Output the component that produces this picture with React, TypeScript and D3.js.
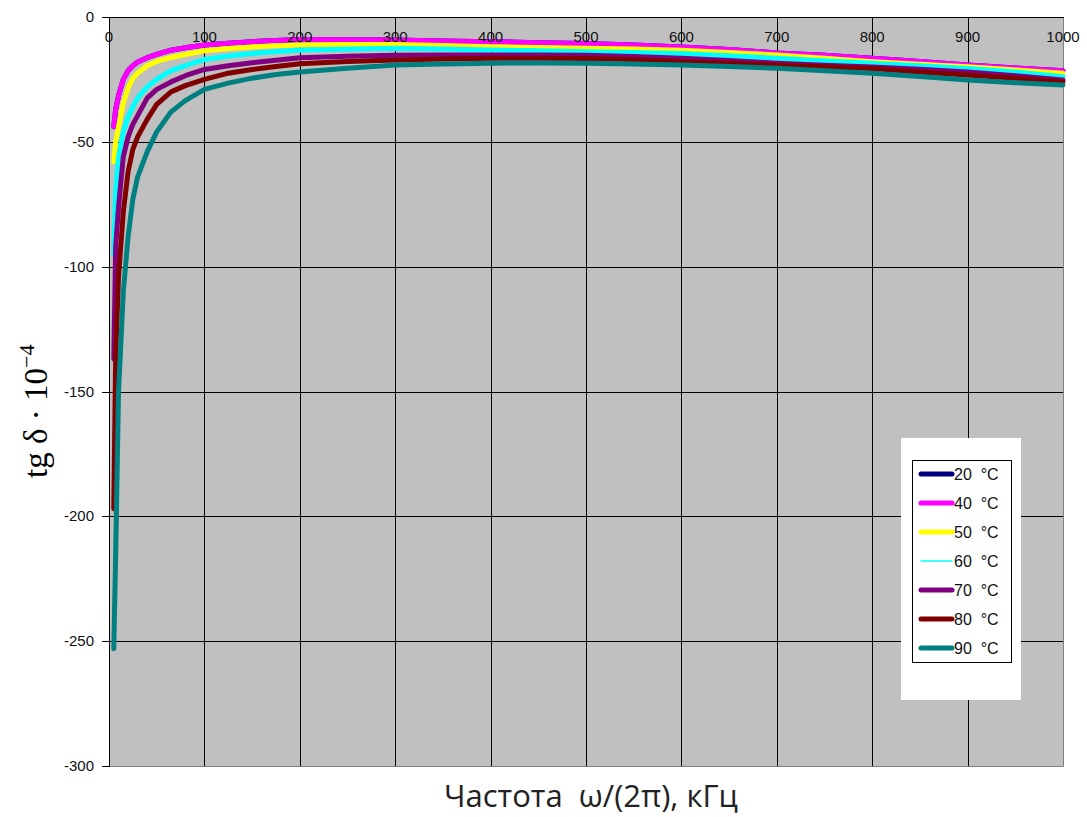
import * as d3 from 'd3'
import React, { useEffect, useRef } from 'react'

// frequency, kHz
const freqs = [5, 7, 10, 15, 20, 25, 30, 40, 50, 65, 80, 100, 125, 150, 175, 200, 250, 300, 350, 400, 450, 500, 550, 600, 650, 700, 750, 800, 850, 900, 950, 1000]

// tg delta * 10^-4
const t40 = [-44, -37, -31.5, -25, -21.5, -19.5, -18, -16.3, -15, -13.3, -12.3, -11.2, -10.5, -9.9, -9.4, -9.0, -9.1, -9.2, -9.6, -9.9, -10.3, -10.6, -11.2, -12.0, -13.0, -14.4, -15.3, -16.5, -17.8, -19.2, -20.4, -21.5]
const t20 = t40 // hidden under the 40 °C curve
const t50 = [-58, -50, -44, -34.5, -28.5, -24.5, -22.5, -19.5, -17.8, -16.2, -15, -13.5, -12.6, -12, -11.5, -11.2, -11, -11, -11.4, -11.9, -12.2, -12.5, -12.8, -13.3, -14.2, -15.2, -16.5, -17.9, -18.9, -19.9, -21.2, -22.5]
const t60 = [-95, -70, -56, -46, -40, -36, -32.5, -28, -25, -21.5, -19.5, -17, -15.6, -14.6, -13.8, -13.2, -12.8, -12.5, -12.8, -13.2, -13.5, -13.9, -14.2, -14.6, -15.5, -16.5, -17.5, -18.5, -19.5, -20.6, -22, -23.9]
const t70 = [-137, -92, -76, -56, -48, -43, -39.5, -32.5, -29, -26, -23.5, -21, -19.5, -18.3, -17.3, -16.3, -15.7, -15.3, -15.2, -15.2, -15.2, -15.3, -15.8, -16.5, -17.4, -18.5, -19.3, -20, -20.9, -22, -23.5, -25.2]
const t80 = [-197, -135, -104, -78, -62, -53, -48, -41, -35, -30, -27.5, -25, -22.5, -21, -19.8, -18.7, -17.8, -17.2, -16.8, -16.5, -16.5, -16.6, -17, -17.8, -18.5, -19.2, -19.9, -20.6, -22, -23.2, -24.5, -25.9]
const t90 = [-253, -215, -150, -110, -88, -73, -64, -54, -46, -38, -33.5, -29, -26.5, -24.5, -23, -22, -20.5, -19.2, -18.8, -18.5, -18.4, -18.5, -18.8, -19.2, -19.8, -20.5, -21.5, -22.5, -23.8, -25.2, -26.3, -27.2]

const seriesValues = [t20, t40, t50, t60, t70, t80, t90]
const seriesLabels = ['20  °C', '40  °C', '50  °C', '60  °C', '70  °C', '80  °C', '90  °C']
const seriesColors = ['#000080', '#ff00ff', '#ffff00', '#00ffff', '#800080', '#800000', '#008080']

const xTicks = [0, 100, 200, 300, 400, 500, 600, 700, 800, 900, 1000]
const yTicks = [0, -50, -100, -150, -200, -250, -300]

const App = () => {
  const node = useRef<SVGSVGElement>(null)

  useEffect(() => {
    const width = 1087; const height = 817
    const left = 109; const right = 1063; const top = 17; const bottom = 766
    const svg = d3.select(node.current)
    svg.selectAll('*').remove()

    const x = d3.scaleLinear().domain([0, 1000]).range([left, right])
    const y = d3.scaleLinear().domain([0, -300]).range([top, bottom])

    svg.attr('width', width).attr('height', height)

    svg.append('rect')
      .attr('x', left).attr('y', top)
      .attr('width', right - left).attr('height', bottom - top)
      .attr('fill', '#c0c0c0')

    // frame edges (right, bottom) in grey
    svg.append('path')
      .attr('d', `M${right + 0.5},${top}V${bottom + 0.5}H${left}`)
      .attr('fill', 'none').attr('stroke', '#808080').attr('stroke-width', 1)

    // grid
    svg.append('g').selectAll('line').data(xTicks.filter(d => d > 0 && d < 1000)).enter()
      .append('line')
      .attr('x1', d => Math.round(x(d)) + 0.5).attr('x2', d => Math.round(x(d)) + 0.5)
      .attr('y1', top).attr('y2', bottom)
      .attr('stroke', '#000').attr('stroke-width', 1)
    svg.append('g').selectAll('line').data(yTicks.filter(d => d < 0 && d > -300)).enter()
      .append('line')
      .attr('x1', left - 7).attr('x2', right)
      .attr('y1', d => Math.round(y(d)) + 0.5).attr('y2', d => Math.round(y(d)) + 0.5)
      .attr('stroke', '#000').attr('stroke-width', 1)

    // series
    const line = d3.line<number>()
      .x((d, i) => x(freqs[i]))
      .y(d => y(d))
    svg.append('g').selectAll('path').data(seriesValues).enter()
      .append('path')
      .attr('d', d => line(d))
      .attr('fill', 'none')
      .attr('stroke', (d, i) => seriesColors[i])
      .attr('stroke-width', 5)
      .attr('stroke-linejoin', 'round')
      .attr('stroke-linecap', 'round')

    // axes lines
    svg.append('line')
      .attr('x1', left - 7).attr('x2', right + 1)
      .attr('y1', top + 0.5).attr('y2', top + 0.5)
      .attr('stroke', '#000')
    svg.append('line')
      .attr('x1', left + 0.5).attr('x2', left + 0.5)
      .attr('y1', top).attr('y2', bottom + 1)
      .attr('stroke', '#000')
    svg.append('line')
      .attr('x1', left - 7).attr('x2', left)
      .attr('y1', bottom + 0.5).attr('y2', bottom + 0.5)
      .attr('stroke', '#000')

    const font = '"Liberation Sans", Arial, sans-serif'
    svg.append('g').selectAll('text').data(xTicks).enter()
      .append('text')
      .attr('x', d => x(d)).attr('y', top + 25)
      .attr('text-anchor', 'middle')
      .attr('font-family', font).attr('font-size', 15)
      .attr('fill', '#111')
      .text(d => d)
    svg.append('g').selectAll('text').data(yTicks).enter()
      .append('text')
      .attr('x', 94).attr('y', d => y(d) + 5)
      .attr('text-anchor', 'end')
      .attr('font-family', font).attr('font-size', 15)
      .attr('fill', '#111')
      .text(d => d)

    // axis titles
    svg.append('text')
      .attr('x', 591).attr('y', 807)
      .attr('text-anchor', 'middle')
      .attr('font-family', '"Open Sans", "Noto Sans", sans-serif')
      .attr('font-size', 31)
      .attr('fill', '#222')
      .style('white-space', 'pre')
      .text('Частота  ω/(2π), кГц')

    const yTitle = svg.append('text')
      .attr('transform', 'translate(47,478) rotate(-90)')
      .attr('font-family', '"Liberation Serif", "Times New Roman", serif')
      .attr('font-size', 33)
      .attr('fill', '#000')
    yTitle.append('tspan').text('tg δ · 10')
    yTitle.append('tspan').attr('dy', -13).attr('font-size', 22).text('−4')

    // legend
    svg.append('rect')
      .attr('x', 901).attr('y', 438).attr('width', 120).attr('height', 262)
      .attr('fill', '#fff')
    svg.append('rect')
      .attr('x', 912.5).attr('y', 460.5).attr('width', 99).attr('height', 202)
      .attr('fill', 'none').attr('stroke', '#000').attr('stroke-width', 1)
    const items = svg.append('g').selectAll('g').data(seriesLabels).enter()
      .append('g')
      .attr('transform', (d, i) => `translate(0,${474 + i * 29})`)
    items.append('line')
      .attr('x1', 921).attr('x2', 952)
      .attr('stroke', (d, i) => seriesColors[i])
      .attr('stroke-width', (d, i) => i === 3 ? 1.5 : 5)
      .attr('stroke-linecap', 'round')
    items.append('text')
      .attr('x', 954).attr('y', 6)
      .attr('font-family', font).attr('font-size', 16)
      .attr('fill', '#111')
      .style('white-space', 'pre')
      .text(d => d)
  }, [])

  return <svg ref={node} style={{ display: 'block', position: 'absolute', left: 0, top: 0 }} />
}

export default App
